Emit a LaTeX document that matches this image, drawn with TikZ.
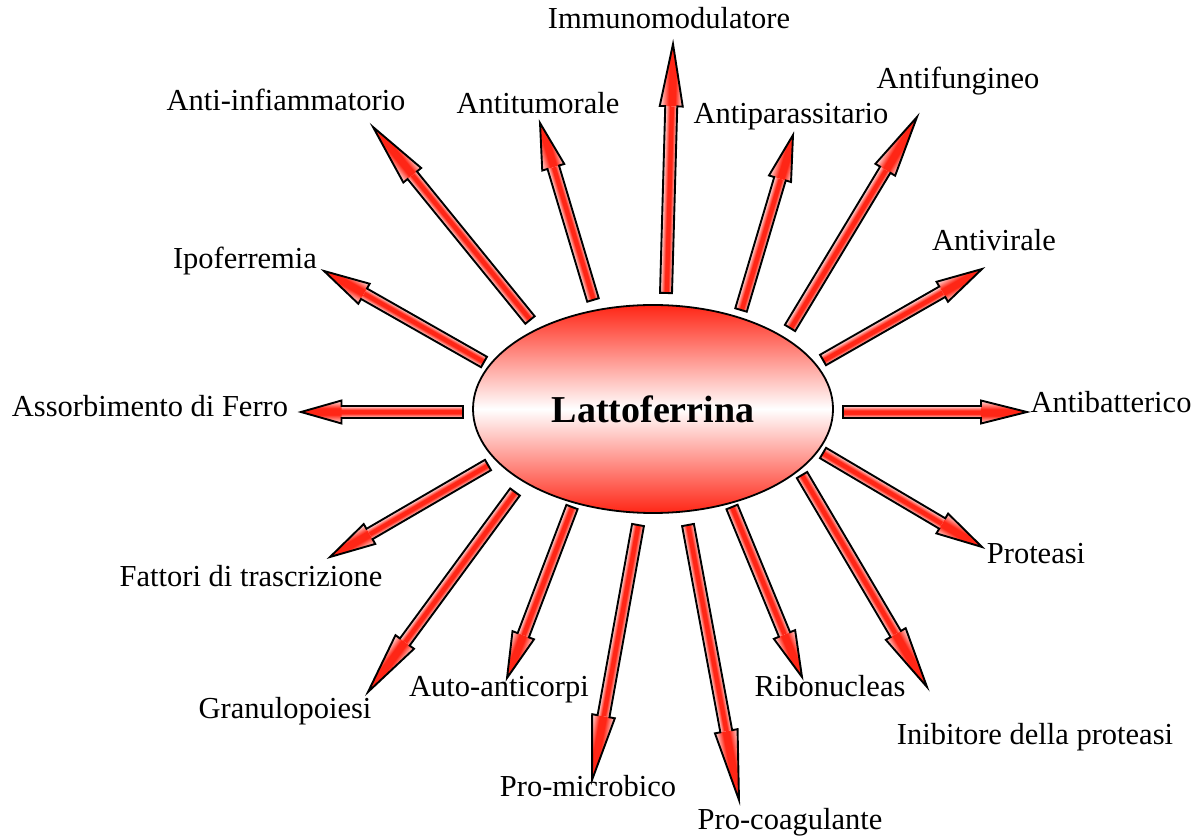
\documentclass[tikz,border=0pt]{standalone}
\usepackage{fontspec}
\setmainfont{Liberation Serif}
\usetikzlibrary{calc,shapes.geometric}
\definecolor{lfred}{RGB}{255,38,22}
\definecolor{lfpale}{RGB}{255,225,225}
\pgfdeclareverticalshading{lfband}{100bp}{color(0bp)=(lfpale); color(25bp)=(lfpale);
  color(42bp)=(lfred); color(56bp)=(lfred); color(75bp)=(lfpale); color(100bp)=(lfpale)}
\tikzset{
  lfcore/.style={ellipse, draw=black, line width=0.9pt, top color=lfred, bottom color=lfred,
    middle color=white, minimum width=180pt, minimum height=104pt, inner sep=0pt,
    font=\fontsize{19}{22}\selectfont\bfseries},
  lflabel/.style={font=\fontsize{15.25}{18}\selectfont, inner sep=0pt, text height=0.66em, text depth=0pt},
  lfshade/.style={shading=lfband},
  lfedge/.style={draw=black, line width=0.95pt, line join=miter}
}
% block arrow: name, tail x, tail y, tip x, tip y (pixel units)
\newcommand\lfray[5]{%
  \coordinate (#1-a) at (#2,#3);
  \coordinate (#1-b) at (#4,#5);
  \pgfmathsetmacro\lfang{atan2(#3-#5,#4-#2)}%
  \pgfmathsetmacro\lflen{veclen(#4-#2,#5-#3)}%
  \pgfmathsetmacro\lfneck{0.75*\lflen}%
  \begin{scope}[transform canvas={shift={(#1-a)},rotate=\lfang}]
    \shade[lfshade] (0,-6) rectangle (\lfneck,6);
    \shade[lfshade] (\lfneck,-11.5) -- (\lflen,0) -- (\lfneck,11.5) -- cycle;
    \draw[lfedge] (0,-6) -- (\lfneck,-6) -- (\lfneck,-11.5) -- (\lflen,0)
      -- (\lfneck,11.5) -- (\lfneck,6) -- (0,6) -- cycle;
  \end{scope}}

\begin{document}
\begin{tikzpicture}[x=0.5pt, y=-0.5pt]
  \useasboundingbox (0,0) rectangle (1202,838);

  % arrows around the centre
  \lfray{immuno}{666}{293}{673}{44}
  \lfray{tumor}{593}{300}{540}{123}
  \lfray{infiam}{530}{320}{373}{127}
  \lfray{ipofer}{484}{362}{324}{271}
  \lfray{assorb}{463}{412}{301}{412}
  \lfray{fattori}{488}{465}{330}{557}
  \lfray{granulo}{515}{492}{368}{692}
  \lfray{auto}{572}{507}{507}{678}
  \lfray{promicro}{638}{525}{592}{780}
  \lfray{procoag}{688}{525}{739}{800}
  \lfray{ribo}{732}{507}{802}{677}
  \lfray{inib}{802}{475}{927}{687}
  \lfray{proteasi}{823}{453}{982}{547}
  \lfray{antibat}{843}{412}{1027}{412}
  \lfray{antivir}{823}{360}{982}{269}
  \lfray{antifung}{790}{328}{917}{117}
  \lfray{antipar}{741}{310}{793}{135}

  \node[lfcore] (lf) at (653,409) {Lattoferrina};

  % labels
  \node[lflabel] (l-immuno) at (669,22) {Immunomodulatore};
  \node[lflabel] (l-infiam) at (286,104) {Anti-infiammatorio};
  \node[lflabel] (l-tumor) at (538,107) {Antitumorale};
  \node[lflabel] (l-antipar) at (791,117) {Antiparassitario};
  \node[lflabel] (l-antifung) at (958,82) {Antifungineo};
  \node[lflabel] (l-ipofer) at (245,262) {Ipoferremia};
  \node[lflabel] (l-antivir) at (994,244) {Antivirale};
  \node[lflabel] (l-assorb) at (150,410) {Assorbimento di Ferro};
  \node[lflabel] (l-antibat) at (1111,406) {Antibatterico};
  \node[lflabel] (l-fattori) at (251,580) {Fattori di trascrizione};
  \node[lflabel] (l-proteasi) at (1036,557) {Proteasi};
  \node[lflabel] (l-granulo) at (285,712) {Granulopoiesi};
  \node[lflabel] (l-auto) at (499,690) {Auto-anticorpi};
  \node[lflabel] (l-ribo) at (830,690) {Ribonucleas};
  \node[lflabel] (l-inib) at (1035,738) {Inibitore della proteasi};
  \node[lflabel] (l-promicro) at (588,790) {Pro-microbico};
  \node[lflabel] (l-procoag) at (790,823) {Pro-coagulante};
\end{tikzpicture}
\end{document}
